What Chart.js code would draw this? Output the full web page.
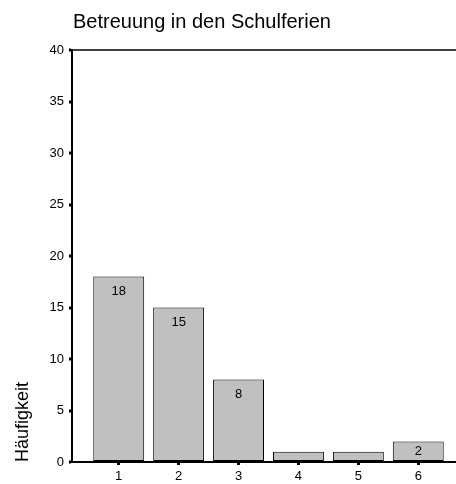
<!DOCTYPE html>
<html>
<head>
<meta charset="utf-8">
<script src="https://cdn.jsdelivr.net/npm/chart.js@4/dist/chart.umd.min.js"></script>
<style>
  html, body { margin: 0; padding: 0; background: #fff; }
  #wrap { width: 456px; height: 484px; }
</style>
</head>
<body>
<div id="wrap"><canvas id="chart" width="456" height="484"></canvas></div>
<script>
const chartTitle = "Betreuung in den Schulferien";
const axisTitle = "Häufigkeit";
const categories = [1, 2, 3, 4, 5, 6];
const counts = [18, 15, 8, 1, 1, 2];
const yTicks = [0, 5, 10, 15, 20, 25, 30, 35, 40];

const FONT = "'Liberation Sans', Arial, sans-serif";

// title sits flush with the plot's left edge, so draw it ourselves
const leftTitle = {
  id: "leftTitle",
  afterDraw(chart) {
    const ctx = chart.ctx;
    ctx.save();
    ctx.font = "20px " + FONT;
    ctx.fillStyle = "#000";
    ctx.textBaseline = "alphabetic";
    ctx.fillText(chartTitle, chart.chartArea.left + 1, 28);
    ctx.restore();
  }
};

// value labels inside the bars (skipped when the bar is too short)
const barLabels = {
  id: "barLabels",
  afterDatasetsDraw(chart) {
    const ctx = chart.ctx;
    const meta = chart.getDatasetMeta(0);
    ctx.save();
    ctx.font = "13px " + FONT;
    ctx.fillStyle = "#000";
    ctx.textAlign = "center";
    ctx.textBaseline = "middle";
    meta.data.forEach((bar, i) => {
      const h = bar.base - bar.y;
      if (h < 15) return;
      const y = Math.min(bar.y + 15, (bar.y + bar.base) / 2);
      ctx.fillText(String(counts[i]), bar.x, y);
    });
    ctx.restore();
  }
};

new Chart(document.getElementById("chart"), {
  type: "bar",
  data: {
    datasets: [{
      data: categories.map((c, i) => ({ x: c, y: counts[i] })),
      backgroundColor: "#c0c0c0",
      borderColor: "#000",
      borderWidth: 1,
      borderSkipped: false,
      barPercentage: 0.85,
      categoryPercentage: 1
    }]
  },
  options: {
    responsive: false,
    animation: false,
    layout: { padding: { top: 50, left: 0, right: 0, bottom: 0 } },
    plugins: {
      legend: { display: false },
      tooltip: { enabled: false },
      title: { display: false }
    },
    scales: {
      x: {
        type: "linear",
        offset: false,
        min: 0.22,
        max: 6.63,
        afterBuildTicks(axis) { axis.ticks = categories.map(v => ({ value: v })); },
        afterFit(scale) { scale.height = 22; },
        ticks: {
          color: "#000",
          font: { size: 13, family: FONT },
          padding: 4,
          maxRotation: 0,
          callback: v => String(v)
        },
        grid: { offset: false, drawOnChartArea: false, tickLength: 3, tickWidth: 3, tickColor: "#000" },
        border: { color: "#000", width: 2 }
      },
      y: {
        min: 0,
        max: 40,
        afterBuildTicks(axis) { axis.ticks = yTicks.map(v => ({ value: v })); },
        afterFit(scale) { scale.width = 72; },
        ticks: {
          color: "#000",
          font: { size: 13, family: FONT },
          padding: 5
        },
        grid: {
          color: c => (c.tick && c.tick.value === 40 ? "#404040" : "rgba(0,0,0,0)"),
          lineWidth: 2,
          tickColor: "#000",
          tickLength: 3,
          tickWidth: 3
        },
        border: { color: "#000", width: 2 },
        title: {
          display: true,
          text: axisTitle,
          align: "start",
          color: "#000",
          font: { size: 18, family: FONT },
          padding: { top: 12, bottom: 0 }
        }
      }
    }
  },
  plugins: [leftTitle, barLabels]
});
</script>
</body>
</html>
